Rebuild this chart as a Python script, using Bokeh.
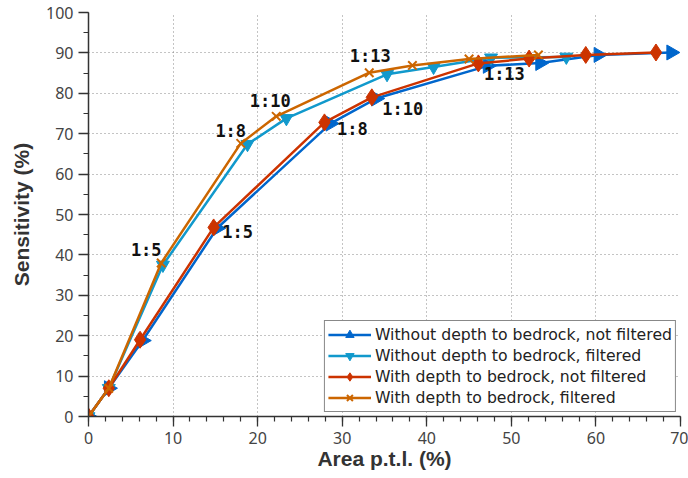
import math
from bokeh.plotting import figure
from bokeh.models import Range1d, Legend, LegendItem, ColumnDataSource, SingleIntervalTicker
from bokeh.core.properties import value
from bokeh.embed import file_html
from bokeh.resources import INLINE

# ---- data ----
blue_x = [0, 2.4, 6.4, 15.2, 28.6, 34.0, 47.2, 53.4, 60.3, 68.9]
blue_y = [0, 7, 18.8, 46.6, 72.5, 78.7, 86.8, 87.5, 89.5, 90.1]

cyan_x = [0, 2.4, 8.8, 18.8, 23.4, 35.3, 40.8, 47.6, 56.5]
cyan_y = [0, 7, 37.5, 67.4, 73.8, 84.7, 86.5, 88.8, 89.0]

red_x = [0, 2.4, 6.1, 14.8, 27.9, 33.5, 46.1, 52.1, 58.8, 67.1]
red_y = [0, 7, 19.0, 46.8, 72.8, 79.0, 87.4, 88.6, 89.5, 90.1]

orange_x = [0, 2.4, 8.6, 18.0, 22.2, 33.2, 38.3, 45.0, 53.2]
orange_y = [0, 7, 38.0, 67.6, 74.3, 85.1, 86.9, 88.5, 89.5]

ratio_labels = ["1:5", "1:8", "1:10", "1:13"]
upper_idx = [2, 3, 4, 5]   # points of orange series
lower_idx = [3, 4, 5, 6]   # points of red series

series_names = [
    "Without depth to bedrock, not filtered",
    "Without depth to bedrock, filtered",
    "With depth to bedrock, not filtered",
    "With depth to bedrock, filtered",
]

# ---- styles ----
C_BLUE = "#0066CC"
C_CYAN = "#1199CC"
C_RED = "#CC3300"
C_ORANGE = "#CC6600"
TICK_FONT = "Noto Sans"
LABEL_FONT = "Liberation Sans"

p = figure(width=688, height=478, output_backend="svg", toolbar_location=None,
           x_range=Range1d(0, 70), y_range=Range1d(0, 100),
           min_border_left=88, min_border_right=8, min_border_top=12, min_border_bottom=62)
p.outline_line_color = None
p.background_fill_color = "white"

p.xaxis.ticker = SingleIntervalTicker(interval=10, num_minor_ticks=5)
p.yaxis.ticker = SingleIntervalTicker(interval=10, num_minor_ticks=2)
for ax in (p.xaxis[0], p.yaxis[0]):
    ax.axis_line_color = "#333333"
    ax.axis_line_width = 1.5
    ax.major_tick_line_color = "#333333"
    ax.minor_tick_line_color = "#333333"
    ax.major_tick_line_width = 1.3
    ax.minor_tick_line_width = 1.2
    ax.major_tick_out = 10
    ax.major_tick_in = 0
    ax.minor_tick_out = 5
    ax.minor_tick_in = 0
    ax.major_label_text_font = TICK_FONT
    ax.major_label_text_font_size = "16px"
    ax.major_label_text_color = "#444444"
    ax.axis_label_text_font = LABEL_FONT
    ax.axis_label_text_font_size = "21px"
    ax.axis_label_text_font_style = "bold"
    ax.axis_label_text_color = "#333333"
p.xaxis.axis_label = "Area p.t.l. (%)"
p.yaxis.axis_label = "Sensitivity (%)"
p.xaxis.major_label_standoff = 5
p.yaxis.major_label_standoff = 5
p.xaxis.axis_label_standoff = 0
p.yaxis.axis_label_standoff = 10

for g in (p.xgrid[0], p.ygrid[0]):
    g.grid_line_color = "#888888"
    g.grid_line_dash = "1 3"
    g.grid_line_width = 1

LW = 2.5
items = []

blue_src = ColumnDataSource(dict(x=blue_x, y=blue_y, a=[-math.pi / 2] * len(blue_x)))
l1 = p.line(blue_x, blue_y, line_color=C_BLUE, line_width=LW)
m1 = p.scatter(x="x", y="y", angle="a", source=blue_src, marker="triangle", size=15,
               fill_color=C_BLUE, line_color=C_BLUE)
items.append(LegendItem(label=series_names[0], renderers=[l1, m1]))

l2 = p.line(cyan_x, cyan_y, line_color=C_CYAN, line_width=LW)
m2 = p.scatter(cyan_x, cyan_y, marker="inverted_triangle", size=13,
               fill_color=C_CYAN, line_color=C_CYAN)
items.append(LegendItem(label=series_names[1], renderers=[l2, m2]))

l3 = p.line(red_x, red_y, line_color=C_RED, line_width=LW)
m3 = p.scatter(red_x, red_y, marker="diamond", size=17,
               fill_color=C_RED, line_color=C_RED)
items.append(LegendItem(label=series_names[2], renderers=[l3, m3]))

l4 = p.line(orange_x, orange_y, line_color=C_ORANGE, line_width=LW)
m4 = p.scatter(orange_x, orange_y, marker="x", size=12,
               line_color=C_ORANGE, line_width=2)
items.append(LegendItem(label=series_names[3], renderers=[l4, m4]))

# ratio labels
up_dx = [-15, -10, -6, 1]
up_dy = [-13, -12, -15, -17]
lo_dx = [24, 28, 31, 26]
lo_dy = [5, 7, 12, 11]
up_src = ColumnDataSource(dict(x=[orange_x[i] for i in upper_idx],
                               y=[orange_y[i] for i in upper_idx],
                               t=ratio_labels, dx=up_dx, dy=up_dy))
lo_src = ColumnDataSource(dict(x=[red_x[i] for i in lower_idx],
                               y=[red_y[i] for i in lower_idx],
                               t=ratio_labels, dx=lo_dx, dy=lo_dy))
for src in (up_src, lo_src):
    p.text(x="x", y="y", text="t", x_offset="dx", y_offset="dy", source=src,
           text_font=value("DejaVu Sans Mono"), text_font_style="bold",
           text_font_size="17px", text_color="#111111",
           text_align="center", text_baseline="middle")

legend = Legend(items=items, location="bottom_right")
legend.label_text_font = "DejaVu Sans"
legend.label_text_font_size = "15.7px"
legend.label_text_color = "#222222"
legend.glyph_width = 43
legend.glyph_height = 21
legend.label_height = 21
legend.label_standoff = 4
legend.spacing = 0
legend.padding = 3
legend.margin = 4
legend.border_line_color = "#111111"
legend.border_line_width = 1.5
legend.background_fill_alpha = 1
p.add_layout(legend, "center")

open("out.html", "w").write(file_html(p, INLINE))
